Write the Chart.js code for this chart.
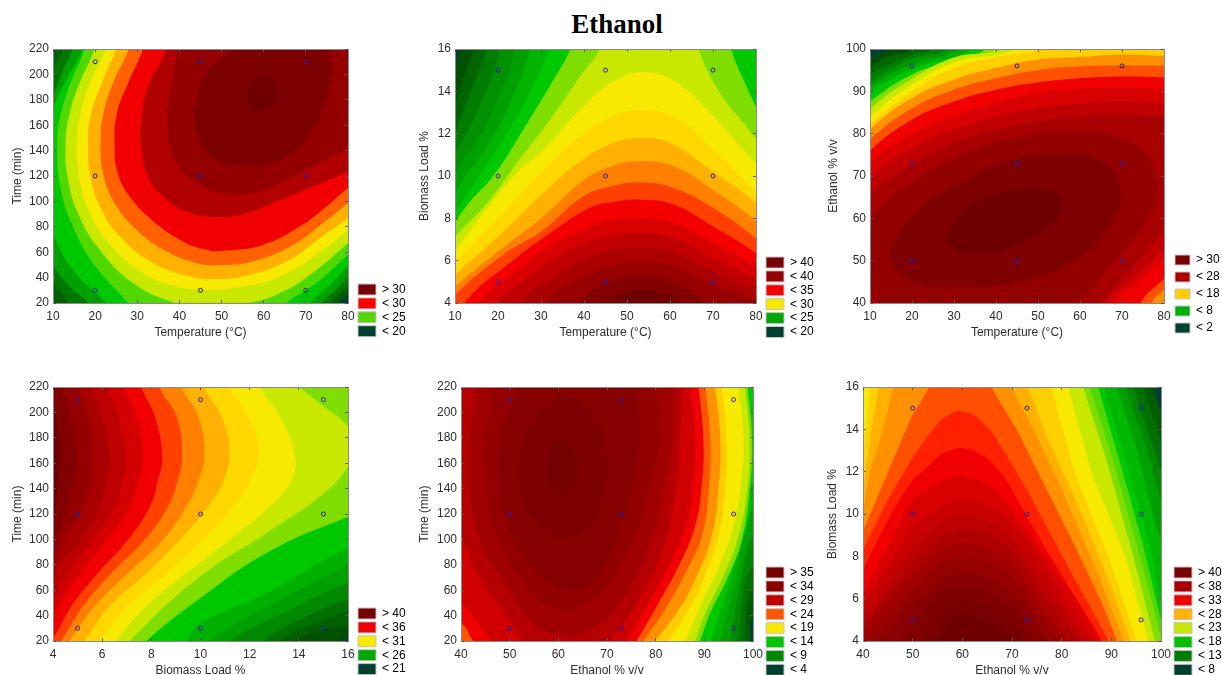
<!DOCTYPE html>
<html>
<head>
<meta charset="utf-8">
<title>Ethanol</title>
<script src="https://cdn.jsdelivr.net/npm/chart.js@4/dist/chart.umd.min.js"></script>
<style>
  html, body { margin: 0; height: 100%; overflow: hidden; background: #fff; }
  #title { position: absolute; left: 0; width: 1234px; top: 8px; text-align: center;
    font: bold 27px/32px "Liberation Serif", serif; color: #000; }
  canvas { position: absolute; filter: blur(0.45px); }
</style>
</head>
<body>
<div id="title">Ethanol</div>
<script>
const temperatureTicks = [10, 20, 30, 40, 50, 60, 70, 80]
const timeTicks = [20, 40, 60, 80, 100, 120, 140, 160, 180, 200, 220]
const biomassTicks = [4, 6, 8, 10, 12, 14, 16]
const ethanolTicks = [40, 50, 60, 70, 80, 90, 100]

const temperatureLevels = [20, 45, 70]
const timeLevels = [30, 120, 210]
const biomassLevels = [5, 10, 15]
const ethanolLevels = [50, 73, 96]

// contours in axis units, lowest level first,
// each one closed outside the plot area so only the visible part shows

const tempTimeColors = ["#004030", "#005f00", "#007800", "#00a000", "#00c800", "#50d800", "#c8e800", "#f8e900", "#ffb000", "#ff6000", "#f00000", "#b00000", "#940000", "#7c0000", "#720000"]
const tempTimeContours = [
  [[0, 0], [0, 250], [90, 250], [90, 0]],
  [[0, 10], [0, 240], [90, 240], [90, 40], [80, 26.6], [77.7, 20], [76, 10]],
  [[13, 235], [12.4, 220], [10, 205], [7, 190], [5, 150], [5, 60], [7, 45], [10, 35.7], [13.6, 20], [15, 10], [74, 10], [75.7, 20], [80, 32.6], [85, 42], [85, 235]],
  [[15.5, 235], [14.6, 220], [12.5, 204], [10, 182.7], [7, 160], [7, 90], [10, 51.5], [14, 33], [18.3, 20], [20, 10], [72, 10], [73.7, 20], [77, 30], [80, 39.7], [85, 52], [85, 235]],
  [[18, 235], [17.1, 220], [13, 195], [10, 172], [8, 140], [8, 100], [10, 75], [15, 45], [22.7, 20], [25, 10], [69, 10], [71, 20], [76, 35], [80, 48.9], [85, 62], [85, 235]],
  [[18.5, 235], [17.5, 220], [13.6, 188], [11.4, 161.7], [11, 140.7], [11.7, 111.9], [14.4, 83], [19.5, 51.5], [27.8, 20], [30, 10], [63, 10], [65.4, 20], [72.5, 35.7], [80, 58], [85, 72], [85, 235]],
  [[21, 235], [19.9, 220], [16.3, 193], [14, 169.6], [13, 146], [13.6, 117], [16.3, 88], [21.1, 62], [29, 35.7], [38.5, 20.5], [44.8, 17], [56.3, 20], [64.6, 29], [72.5, 46], [80, 67], [85, 80], [85, 235]],
  [[23.5, 235], [22.5, 220], [19.1, 195.9], [16.7, 172], [15.7, 148.6], [16.2, 119.7], [18.7, 90.9], [23.9, 64.6], [31.4, 43.6], [38.5, 33.6], [46.4, 30.5], [54.3, 32.6], [63, 39.7], [72.5, 58], [80, 77.7], [85, 92], [85, 235]],
  [[26, 235], [25, 220], [21.9, 195.9], [19.1, 169.6], [18.3, 146], [18.9, 119.7], [21.5, 93.5], [26.6, 69.9], [33.8, 51.5], [41.7, 41.5], [48, 38.9], [55.9, 41.5], [65.4, 52.8], [73.3, 71], [80, 86.9], [85, 100], [85, 235]],
  [[29, 235], [28, 220], [24.6, 195.9], [22, 169.6], [21.3, 146], [21.9, 122.4], [24.6, 98.7], [29.8, 77.7], [36.9, 60.7], [44, 51.5], [49.6, 49.7], [57.5, 52.8], [67, 65.9], [74.1, 83], [80, 98.7], [85, 112], [85, 235]],
  [[32.5, 235], [31.4, 220], [27.8, 193], [25.2, 169.6], [24.6, 146], [25.4, 122], [28.2, 104], [33.4, 85.6], [40.1, 69.9], [46.4, 62], [52, 61.5], [59.9, 65.9], [68.6, 80.4], [74.9, 96], [80, 110.5], [85, 122], [85, 235]],
  [[38, 235], [36.9, 220], [32.6, 190.6], [31, 164], [31, 143], [32.2, 122.4], [36.1, 104], [41.7, 92], [48.8, 87.7], [55.9, 90.9], [64.6, 102], [72.5, 113], [80, 123.4], [85, 132], [85, 235]],
  [[40, 235], [39.7, 220], [37.7, 185.4], [37.3, 153.9], [39.3, 130], [44.8, 113], [52, 106], [59.9, 109], [68.6, 122.4], [76.5, 135.5], [80, 143], [85, 155], [85, 235]],
  [[53, 235], [52, 220], [46.4, 201], [44, 180], [43.8, 159], [46.8, 138], [54.3, 128.4], [64.6, 134], [72.5, 161.7], [76.1, 201], [75.3, 220], [75, 235]],
  [[60.7, 198.5], [63.3, 189], [62.7, 177.5], [58.3, 171], [56.3, 180], [57.1, 193], [60.7, 198.5], [63.3, 189]],
]

const tempBiomassColors = ["#004030", "#005000", "#006400", "#007c00", "#009000", "#00a000", "#00b400", "#00c800", "#80dd00", "#c8e800", "#f8e900", "#ffd800", "#ffb000", "#ff8000", "#ff4000", "#f50000", "#d80000", "#c00000", "#aa0000", "#960000", "#820000", "#700000"]
const tempBiomassContours = [
  [[0, 0], [0, 20], [90, 20], [90, 0]],
  [[11.7, 17], [11.2, 16], [10, 14.94], [8, 13.5], [5, 10], [5, 2], [85, 2], [85, 17]],
  [[15, 17], [14.3, 16], [11.9, 14.6], [10, 13.3], [8, 12], [5, 9], [5, 2], [85, 2], [85, 17]],
  [[18, 17], [17.4, 16], [13.9, 14.1], [10, 12], [7, 10], [5, 8], [5, 2], [85, 2], [85, 17]],
  [[21, 17], [20.5, 16], [17.4, 14.1], [12.7, 12], [10, 11.1], [7, 9.5], [5, 7], [5, 2], [85, 2], [85, 17]],
  [[24.5, 17], [24, 16], [20.9, 14.1], [16.2, 12], [10, 10.14], [7, 8.8], [5, 6], [5, 2], [85, 2], [85, 17]],
  [[28, 17], [27.5, 16], [23.6, 13.8], [18.9, 11.9], [10, 9.2], [7, 8], [5, 6], [5, 2], [85, 2], [85, 17]],
  [[32, 17], [31.7, 16], [27.8, 14.1], [22, 12], [15, 9.8], [10, 8.25], [7, 7], [5, 5], [5, 2], [85, 2], [85, 17]],
  [[37.5, 17], [36.8, 16], [32.9, 14.55], [25.9, 12.2], [18.9, 10], [13.5, 8.8], [10, 7.8], [6, 6.5], [5, 2], [85, 2], [85, 11.5], [80, 13.3], [77.1, 14.55], [74.2, 16], [73.5, 17]],
  [[44.5, 17], [43.7, 16], [39.1, 14.7], [32.1, 12.66], [25.1, 10.8], [17.8, 8.8], [10, 7.12], [6, 6], [5, 2], [85, 2], [85, 10.5], [80, 11.75], [77.1, 12.5], [71.7, 13.9], [66.6, 16], [66, 17]],
  [[5, 2], [6, 5.5], [10, 6.44], [16.6, 8.25], [24.4, 10.14], [30.6, 11.24], [39.9, 13.3], [47.6, 14.55], [54.4, 14.9], [61.6, 14.4], [69.3, 13], [75.6, 11.56], [80, 10.6], [85, 9.5], [85, 2]],
  [[5, 2], [6, 5], [10, 5.9], [19.7, 7.94], [30.6, 10.3], [39.9, 12], [47.6, 12.9], [53.8, 13.1], [60.8, 12.8], [69.3, 11.4], [80, 9.2], [85, 8], [85, 2]],
  [[5, 2], [6, 4.5], [10, 5.34], [19.7, 7.07], [30.6, 9.2], [39.9, 10.8], [46.9, 11.56], [53.1, 11.8], [60, 11.56], [69.3, 10.3], [80, 8.72], [85, 7.5], [85, 2]],
  [[5, 2], [6, 4], [10, 4.79], [20.5, 6.52], [30.6, 8.1], [39.9, 9.8], [46.9, 10.5], [53.1, 10.7], [60.8, 10.46], [70, 9.35], [80, 7.86], [85, 6.8], [85, 2]],
  [[5, 2], [7, 3.6], [10, 4.4], [21.2, 6.28], [30.6, 7.46], [39.9, 9.04], [46.9, 9.54], [53.1, 9.7], [60.8, 9.43], [70, 8.5], [80, 7.07], [85, 6.2], [85, 2]],
  [[8, 2], [11.9, 3.92], [22.8, 5.9], [32.1, 7.3], [41.4, 8.5], [46.9, 8.77], [53.1, 8.88], [60.8, 8.65], [70, 7.62], [80, 6.36], [85, 5.5], [85, 2]],
  [[13, 2], [15.8, 4], [22.8, 5.26], [32.1, 6.68], [41.4, 7.62], [46.9, 7.94], [53.1, 8], [60.8, 7.78], [69.3, 6.9], [80, 5.73], [85, 5], [85, 2]],
  [[17, 2], [19.7, 3.92], [26.7, 5.18], [35.2, 6.36], [43.7, 7.07], [53.1, 7.3], [60.8, 7.07], [69.3, 6.2], [80, 5.1], [85, 4.4], [85, 2]],
  [[23, 2], [25.1, 3.92], [32.1, 5.1], [39.9, 6.05], [46.9, 6.49], [53.1, 6.6], [60.8, 6.36], [69.3, 5.57], [80, 4.55], [85, 4], [85, 2]],
  [[28, 2], [30.6, 3.92], [38.3, 5.1], [46.1, 5.73], [53.1, 5.9], [60.8, 5.73], [69.3, 4.94], [80, 4.08], [85, 3.5], [85, 2]],
  [[36, 2], [39.1, 4], [46.1, 5], [53.1, 5.26], [60.8, 5], [67.8, 4.16], [69.3, 3.92], [73, 2]],
  [[41, 2], [44.5, 3.9], [49.2, 4.47], [53.1, 4.63], [58.5, 4.47], [63, 3.9], [67, 2]],
]

const tempEthanolColors = ["#004030", "#005000", "#006800", "#008000", "#009800", "#00b000", "#00c800", "#80dd00", "#c8e800", "#f8e900", "#ffd000", "#ff9000", "#ff5000", "#f00000", "#d80000", "#c00000", "#a80000", "#920000", "#7e0000", "#700000"]
const tempEthanolContours = [
  [[0, 20], [0, 110], [90, 110], [90, 20]],
  [[14.5, 104], [14, 100], [10, 97.5], [6, 94], [5, 30], [85, 30], [85, 104]],
  [[21, 104], [20, 100], [14, 98], [10, 95.5], [6, 92], [5, 30], [85, 30], [85, 104]],
  [[25.5, 104], [24.8, 100], [20, 98.6], [10, 93.9], [6, 90], [5, 30], [85, 30], [85, 104]],
  [[29.5, 104], [28.7, 100], [20, 97.6], [10, 92], [6, 88], [5, 30], [85, 30], [85, 104]],
  [[32, 104], [31, 100], [20, 96.4], [10, 91], [6, 87], [5, 30], [85, 30], [85, 104]],
  [[35.5, 104], [34.5, 100], [20, 95.2], [10, 89.6], [6, 86], [5, 30], [85, 30], [85, 104]],
  [[38.5, 104], [37.5, 100], [30, 97.2], [20, 94], [10, 87.6], [6, 84], [5, 30], [85, 30], [85, 104]],
  [[42, 104], [40.6, 100], [30, 98], [20, 93], [10, 86], [6, 82], [5, 30], [85, 30], [85, 104]],
  [[46, 104], [44.6, 100], [30, 96.8], [20, 91.6], [10, 84.1], [6, 80], [5, 30], [85, 30], [85, 104]],
  [[52, 104], [49.8, 100], [40, 98.1], [30, 95.5], [20, 90], [10, 82.2], [6, 78], [5, 30], [85, 30], [85, 104]],
  [[5, 30], [6, 76], [10, 81.1], [20, 88.4], [30, 92.8], [40, 95.5], [50, 97.5], [60, 98.1], [70, 98.7], [80, 98.4], [85, 98.4], [85, 30]],
  [[5, 30], [6, 74], [10, 78.7], [20, 86], [30, 90.4], [40, 93.1], [50, 95], [60, 95.9], [70, 96.1], [80, 96.1], [85, 96], [85, 47], [80, 43.1], [77.1, 40], [74, 30]],
  [[5, 30], [6, 71], [10, 76], [20, 83.3], [30, 87.6], [40, 90.4], [50, 92.1], [60, 93.1], [70, 93.5], [80, 93.3], [85, 93], [85, 50], [80, 45.7], [74.4, 40], [70, 30]],
  [[5, 30], [6, 68], [10, 73.1], [20, 79.8], [30, 84.1], [40, 87.2], [50, 89.6], [60, 90.6], [70, 91], [80, 90.2], [85, 90], [85, 55], [80, 50.5], [75, 46], [68.4, 40], [64, 30]],
  [[5, 30], [6, 64], [10, 69.9], [20, 76.6], [30, 80.9], [40, 84.1], [50, 86], [60, 87.2], [70, 87.6], [80, 87.2], [85, 87], [85, 58], [80, 53], [74, 47], [66.3, 40], [62, 30]],
  [[5, 35], [6, 59], [10, 65.6], [20, 72.7], [30, 77.8], [40, 80.9], [50, 82.9], [60, 84.1], [70, 84.5], [80, 84.1], [85, 84], [85, 62], [80, 57], [73, 49], [64.8, 40], [60, 35]],
  [[14, 39], [10, 42], [8, 48], [8, 56], [10, 60.1], [20.8, 69.1], [31.1, 74.6], [44.6, 79], [60, 80.2], [72.4, 77.8], [78.3, 69.1], [76.3, 60.5], [68.4, 50.2], [58.1, 39.6], [40, 35]],
  [[14.8, 51.8], [20.8, 61.3], [31.1, 68.3], [41.4, 73.1], [51.7, 74.9], [64.4, 73.9], [69.6, 66.8], [66.8, 58.1], [58.9, 50.2], [47.8, 45.5], [28.7, 43.7], [19.2, 45.5], [14.8, 51.8], [20.8, 61.3]],
  [[28.3, 55.7], [31.1, 60.5], [38.3, 65.2], [47.8, 66.9], [54.9, 65.6], [55.7, 62.4], [51.7, 57.3], [43.8, 53], [35.1, 51.4], [29.5, 53], [28.3, 55.7], [31.1, 60.5]],
]

const biomassTimeColors = ["#004030", "#005000", "#006000", "#007000", "#008800", "#00a000", "#00b000", "#00c800", "#80dd00", "#c8e800", "#f8e900", "#ffd800", "#ffb000", "#ff8000", "#ff4000", "#f00000", "#d40000", "#bd0000", "#a80000", "#940000", "#820000", "#700000"]
const biomassTimeContours = [
  [[0, 0], [0, 250], [20, 250], [20, 0]],
  [[15, 10], [15.67, 20], [16, 23.7], [18, 30], [18, 240], [2, 240], [2, 10]],
  [[13.5, 10], [13.8, 20], [15, 29], [16, 31.5], [18, 38], [18, 240], [2, 240], [2, 10]],
  [[13, 10], [13.2, 20], [14.7, 34.2], [16, 43.4], [18, 50], [18, 240], [2, 240], [2, 10]],
  [[12.3, 10], [12.55, 20], [14.3, 39.4], [16, 52.5], [18, 60], [18, 240], [2, 240], [2, 10]],
  [[11, 10], [11.2, 20], [13.64, 44.7], [16, 65.7], [18, 75], [18, 240], [2, 240], [2, 10]],
  [[10, 10], [10.3, 20], [13.23, 52.5], [16, 78.8], [18, 90], [18, 240], [2, 240], [2, 10]],
  [[9, 10], [9.43, 20], [10, 34], [12.69, 57.8], [16, 93.2], [18, 105], [18, 240], [2, 240], [2, 10]],
  [[7.5, 10], [7.8, 20], [10, 53.9], [12.69, 89.3], [16, 117.6], [18, 130], [18, 240], [2, 240], [2, 10]],
  [[14, 220], [15, 204.8], [16, 188.5], [16.2, 173], [16, 157.5], [14.86, 133.9], [12.69, 105], [10, 70.9], [7.12, 20], [6.9, 10], [2, 10], [2, 240], [13, 240]],
  [[12.2, 240], [12.42, 220], [13.23, 196.9], [13.84, 165.4], [13.64, 144.4], [12.82, 126], [11.19, 99.8], [9.43, 73.5], [7.8, 47.3], [6.58, 20], [6.3, 10], [2, 10], [2, 240]],
  [[11, 240], [11.19, 220], [11.94, 196.9], [12.35, 170.7], [12, 145], [11.33, 126], [10.11, 99.8], [8.62, 73.5], [7.05, 47.3], [5.9, 20], [5.6, 10], [2, 10], [2, 240]],
  [[10, 240], [10.14, 220], [10.85, 196.9], [11.18, 168], [10.9, 145], [10.31, 126], [9.16, 99.8], [7.8, 73.5], [6.31, 47.3], [5.29, 20], [5, 10], [2, 10], [2, 240]],
  [[9, 240], [9.23, 220], [9.9, 196.9], [10.16, 168], [9.9, 145], [9.43, 126], [8.48, 99.8], [7.05, 73.5], [5.7, 47.3], [4.68, 20], [4.4, 10], [2, 10], [2, 240]],
  [[8.2, 240], [8.34, 220], [9.02, 196.9], [9.25, 165.4], [9.05, 145], [8.68, 126], [7.73, 99.8], [6.38, 73.5], [5.22, 47.3], [4.34, 20], [4, 10], [2, 10], [2, 240]],
  [[7.4, 240], [7.6, 220], [8.14, 196.9], [8.44, 165.4], [8.25, 145], [7.94, 126], [7.05, 99.8], [5.83, 73.5], [4.75, 47.3], [4, 22.4], [3.5, 14], [2, 10], [2, 240]],
  [[6.7, 240], [6.88, 220], [7.39, 196.9], [7.66, 165.4], [7.45, 145], [7.12, 126], [6.17, 99.8], [5.09, 73.5], [4, 40.7], [3.5, 30], [2, 20], [2, 240]],
  [[6.1, 240], [6.24, 220], [6.65, 196.9], [6.96, 165.4], [6.8, 145], [6.51, 126], [5.63, 99.8], [4.61, 73.5], [4, 51.2], [3.5, 40], [2, 30], [2, 240]],
  [[5.4, 240], [5.56, 220], [5.97, 196.9], [6.28, 168], [6.15, 145], [5.9, 126], [5.15, 99.8], [4.2, 78.8], [4, 68.3], [3.5, 55], [2, 40], [2, 240]],
  [[4.9, 240], [5.02, 220], [5.43, 196.9], [5.6, 168], [5.5, 145], [5.22, 126], [4.48, 99.8], [4, 82.7], [3.5, 70], [2, 50], [2, 240]],
  [[4.3, 240], [4.41, 220], [4.75, 196.9], [4.98, 165.4], [4.85, 145], [4.61, 126], [4.07, 99.8], [3.5, 85], [2, 70], [2, 240]],
  [[3.5, 215], [4, 205], [4.2, 190], [4.31, 165.4], [4.25, 145], [4.11, 126], [4, 115.5], [3.5, 105]],
]

const ethanolTimeColors = ["#004030", "#005c00", "#007000", "#008800", "#00a000", "#00b000", "#00c800", "#80dd00", "#c8e800", "#f8e900", "#ffcc00", "#ff9000", "#ff5500", "#f00000", "#d00000", "#b40000", "#a00000", "#920000", "#860000", "#7e0000", "#760000"]
const ethanolTimeContours = [
  [[30, 0], [30, 250], [110, 250], [110, 0]],
  [[99, 10], [99.4, 20], [100, 38.1], [105, 50], [105, 240], [35, 240], [35, 10]],
  [[98, 10], [98.4, 20], [98.8, 47.3], [100, 61.7], [105, 75], [105, 240], [35, 240], [35, 10]],
  [[96.5, 10], [97, 20], [98.1, 60.4], [100, 78.8], [105, 90], [105, 240], [35, 240], [35, 10]],
  [[95, 10], [95.3, 20], [97.4, 65.7], [100, 102.4], [105, 115], [105, 240], [35, 240], [35, 10]],
  [[93, 10], [93.3, 20], [96.3, 65.7], [100, 126], [105, 140], [105, 240], [35, 240], [35, 10]],
  [[91, 10], [91.5, 20], [95.3, 68.3], [99.4, 120.8], [100, 144.4], [105, 165], [105, 240], [35, 240], [35, 10]],
  [[98.5, 240], [98.9, 220], [99.8, 178.5], [99.3, 139.2], [97.7, 99.8], [94.6, 68.3], [91.2, 42], [89.1, 20], [88, 10], [35, 10], [35, 240]],
  [[98, 240], [98.4, 220], [99.3, 178.5], [98.8, 139.2], [97, 102.4], [93.9, 70.9], [90.2, 42], [88.1, 20], [87, 10], [35, 10], [35, 240]],
  [[96.5, 240], [97, 220], [98.1, 178.5], [97.6, 147], [96.3, 115.5], [93.6, 84], [89.8, 52.5], [86.1, 20], [85, 10], [35, 10], [35, 240]],
  [[93, 240], [93.6, 220], [94.6, 178.5], [94.3, 139.2], [92.9, 102.4], [89.8, 68.3], [86.4, 42], [82.6, 20], [81, 10], [35, 10], [35, 240]],
  [[91.5, 240], [92.2, 220], [93.3, 178.5], [92.9, 139.2], [91.5, 102.4], [88.1, 68.3], [84.3, 42], [79.9, 20], [78, 10], [35, 10], [35, 240]],
  [[89.5, 240], [90.2, 220], [91.2, 178.5], [90.9, 139.2], [89.5, 102.4], [86.1, 73.5], [81.9, 44.7], [77.5, 20], [76, 10], [35, 10], [35, 240]],
  [[88, 240], [88.8, 220], [89.8, 178.5], [89.5, 144.4], [88.1, 110.3], [84.7, 78.8], [80.6, 49.9], [76.1, 20], [75, 14], [60, 5], [44, 14], [42.5, 20], [40, 34.2], [35, 40], [35, 240]],
  [[86.5, 240], [87.1, 220], [88.1, 178.5], [87.8, 147], [86.4, 112.9], [83, 81.4], [78.5, 49.9], [74, 20], [72.5, 14], [60, 5], [47.5, 14], [46.2, 20], [40, 49.9], [35, 60], [35, 240]],
  [[85, 240], [85.4, 220], [85, 180], [84.3, 147], [81.6, 94.5], [76.1, 49.9], [70.6, 20], [69.5, 14], [60, 5], [54, 14], [52.8, 20], [48, 47.3], [43.2, 73.5], [40, 99.8], [35, 110], [35, 240]],
  [[84, 235], [84, 220], [83.5, 180], [82.3, 147], [78.8, 97], [72.7, 49.9], [65.8, 27.6], [59.6, 25], [54.8, 34.2], [48.6, 68.3], [43.8, 99.8], [41.8, 139.2], [41.8, 178.5], [43.2, 220], [44, 235]],
  [[80, 235], [80.2, 220], [80.6, 178.5], [78.2, 131.3], [73.4, 84], [65.8, 49], [58.3, 47.3], [51.4, 73.5], [46.6, 110.3], [44.9, 147], [44.9, 178.5], [46.6, 220], [47, 235]],
  [[76, 235], [76.1, 220], [76.8, 178.5], [74.7, 134], [71.3, 94.5], [65.8, 63], [59.6, 63], [53.5, 84], [49.3, 115.5], [47.6, 147], [48, 178.5], [51.4, 220], [52, 235]],
  [[51.9, 152.3], [53.1, 126], [56.9, 107.7], [61, 100.3], [65.8, 107.7], [69.2, 131.3], [69.9, 165.4], [67.9, 194.3], [61.7, 212.6], [56.2, 199.5], [53.1, 178.5], [51.9, 152.3], [53.1, 126]],
  [[64.1, 157.5], [63, 172], [61, 178.5], [58.5, 172], [57.7, 157.5], [58.2, 143], [61, 136], [63.3, 143], [64.1, 157.5], [63, 172]],
]

const ethanolBiomassColors = ["#004030", "#005c00", "#007000", "#008800", "#00a000", "#00b800", "#00c800", "#50d800", "#80dd00", "#c8e800", "#f8e900", "#ffd000", "#ffb000", "#ff9000", "#ff5000", "#ff2000", "#f00000", "#d80000", "#c80000", "#bd0000", "#ae0000", "#a00000", "#950000", "#8a0000", "#800000", "#780000", "#700000"]
const ethanolBiomassContours = [
  [[30, 0], [30, 20], [110, 20], [110, 0]],
  [[35, 2], [35, 18], [97.5, 18], [98.2, 16], [100, 14.85], [103, 13.5], [105, 2]],
  [[35, 2], [35, 18], [96, 18], [96.5, 16], [98.5, 14.46], [100, 13.5], [103, 12], [105, 2]],
  [[35, 2], [35, 18], [94, 18], [94.5, 16], [97.5, 13.83], [100, 12.09], [103, 10], [105, 2]],
  [[35, 2], [35, 18], [92, 18], [92.8, 16], [96.5, 13.5], [100, 10.68], [103, 8.5], [105, 2]],
  [[35, 2], [35, 18], [90.5, 18], [91.1, 16], [95.1, 13.04], [99.2, 9.26], [100, 8.79], [103, 7], [105, 2]],
  [[35, 2], [35, 18], [88, 18], [88.4, 16], [92.5, 12.88], [97.5, 8.79], [100, 5.8], [103, 3], [105, 2]],
  [[35, 2], [35, 18], [87, 18], [87.4, 16], [91.4, 12.72], [96.1, 8.79], [100, 5.01], [103, 3], [105, 2]],
  [[35, 2], [35, 18], [85, 18], [85.7, 16], [90.1, 12.72], [94.8, 8.79], [100, 4.22], [102, 2]],
  [[35, 2], [35, 18], [84, 18], [84.4, 16], [88.8, 12.72], [93.5, 8.79], [98.8, 4], [100, 2]],
  [[35, 2], [35, 18], [81, 18], [81.4, 16], [86.1, 11.94], [92.8, 8], [97.5, 4], [99, 2]],
  [[41.8, 18], [41.4, 16], [40, 12.8], [36, 9], [36, 2], [97, 2], [95.1, 4], [89.4, 8], [82.7, 11.94], [78, 16], [77, 18]],
  [[43.6, 18], [43.2, 16], [41.4, 13.5], [40, 11.15], [36, 8], [36, 2], [96, 2], [93.8, 4], [89.4, 6.9], [83.4, 10.36], [77.3, 13.5], [73.3, 16], [72, 18]],
  [[46.6, 18], [46.1, 16], [43.8, 13.83], [41.4, 11.94], [40, 10.2], [36, 7], [36, 2], [94, 2], [92.5, 4], [86.1, 7.84], [79.4, 11.46], [74, 14.14], [70, 16], [69, 18]],
  [[54, 18], [53.3, 16], [49.8, 14.6], [45.8, 12.4], [42.4, 10.52], [40, 9.18], [36, 7], [36, 2], [93, 2], [91.1, 4], [88.1, 5.8], [82.7, 8.47], [76, 11.62], [70.6, 14.14], [65.9, 16], [65, 18]],
  [[36, 2], [36, 6], [40, 8.31], [45.4, 10.83], [50, 12.65], [52.8, 13.6], [55.7, 14.46], [59.1, 14.88], [61.9, 14.74], [65.3, 14.06], [68.6, 12.88], [73, 11.15], [77.3, 9.26], [82.7, 6.9], [89.4, 4], [92, 2]],
  [[36, 2], [36, 5], [40, 7.37], [45.8, 10.05], [50, 11.62], [52.8, 12.17], [55.5, 12.8], [59.2, 13.12], [62, 13.04], [65.3, 12.57], [68.6, 11.7], [73, 9.89], [77.3, 8.16], [82.7, 6.11], [88.1, 4], [90, 2]],
  [[36, 2], [36, 4], [40, 6.27], [45.8, 8.79], [50, 10.68], [55.5, 11.54], [59.2, 11.78], [62, 11.7], [65.9, 11.3], [70, 10.2], [74, 8.94], [78.7, 7.37], [83.4, 5.8], [87.4, 4], [89, 2]],
  [[36, 2], [36, 3.5], [40, 5.64], [45.1, 7.53], [50, 9.34], [55.5, 10.36], [59.2, 10.63], [63.9, 10.52], [68.6, 9.89], [73.3, 8.79], [78, 7.06], [82, 5.48], [86.1, 4], [88, 2]],
  [[36, 2], [36, 3.2], [40, 5.17], [45.8, 7.06], [50, 8.47], [55.5, 9.57], [59.2, 9.89], [64.6, 9.73], [70, 8.94], [74.7, 7.53], [78.7, 5.95], [84.7, 4], [86, 2]],
  [[36, 2], [36, 3], [40, 4.77], [45.8, 6.5], [50, 7.69], [55.5, 8.94], [59.2, 9.26], [64.6, 9.1], [70, 8.31], [74, 7.06], [78.7, 5.48], [83.4, 4], [85, 2]],
  [[36, 2], [36, 3], [40, 4.54], [43.8, 5.64], [50, 7.06], [55.5, 8.31], [59.2, 8.63], [64.6, 8.47], [70, 7.69], [74, 6.43], [77.3, 5.17], [81.4, 4], [83, 2]],
  [[38, 2], [40.4, 4], [45.8, 5.48], [50, 6.5], [55.5, 7.69], [59.2, 7.92], [64.6, 7.76], [70, 7.06], [74, 5.8], [79.4, 4], [81, 2]],
  [[41, 2], [43.1, 4], [50, 5.8], [55.5, 6.98], [59.2, 7.21], [64.6, 7.06], [70, 6.27], [74, 5.17], [77.3, 4], [79, 2]],
  [[46, 2], [47.8, 4], [52.5, 5.64], [55.5, 6.35], [59.2, 6.58], [64.6, 6.43], [70, 5.64], [75.3, 4], [77, 2]],
  [[50, 2], [51.8, 4], [55.5, 5.64], [59.2, 5.95], [64.6, 5.8], [70, 4.85], [73.3, 4], [75, 2]],
  [[54, 2], [55.2, 4], [57.2, 5.01], [59.9, 5.24], [64.6, 5.09], [67.9, 4.54], [71.3, 4], [73, 2]],
]

const panels = [
  {
    xTicks: temperatureTicks, yTicks: timeTicks, xLevels: temperatureLevels, yLevels: timeLevels,
    xTitle: "Temperature (°C)", yTitle: "Time (min)",
    colors: tempTimeColors, contours: tempTimeContours, tension: 0.45,
    legendText: ["> 30", "< 30", "< 25", "< 20"],
    legendColors: ["#780000", "#ff0000", "#55d500", "#004030"],
    canvas: [0, 0, 408, 340], plot: [53, 49, 348, 303], yTitlePad: 10.3,
    legendAt: [358, 284], swatch: [18, 11], legendGap: 1.9,
  },
  {
    xTicks: temperatureTicks, yTicks: biomassTicks, xLevels: temperatureLevels, yLevels: biomassLevels,
    xTitle: "Temperature (°C)", yTitle: "Biomass Load %",
    colors: tempBiomassColors, contours: tempBiomassContours, tension: 0.45,
    legendText: ["> 40", "< 40", "< 35", "< 30", "< 25", "< 20"],
    legendColors: ["#780000", "#960000", "#f50000", "#f8e900", "#00a800", "#004030"],
    canvas: [410, 0, 405, 340], plot: [45, 49, 346, 303], yTitlePad: 7.8,
    legendAt: [356, 257], swatch: [18, 11], legendGap: 1.9,
  },
  {
    xTicks: temperatureTicks, yTicks: ethanolTicks, xLevels: temperatureLevels, yLevels: ethanolLevels,
    xTitle: "Temperature (°C)", yTitle: "Ethanol % v/v",
    colors: tempEthanolColors, contours: tempEthanolContours, tension: 0.45,
    legendText: ["> 30", "< 28", "< 18", "< 8", "< 2"],
    legendColors: ["#780000", "#b00000", "#ffcc00", "#00b000", "#004030"],
    canvas: [815, 0, 407, 340], plot: [55, 49, 349, 303], yTitlePad: 11,
    legendAt: [360, 255], swatch: [15, 10], legendGap: 5,
  },
  {
    xTicks: biomassTicks, yTicks: timeTicks, xLevels: biomassLevels, yLevels: timeLevels,
    xTitle: "Biomass Load %", yTitle: "Time (min)",
    colors: biomassTimeColors, contours: biomassTimeContours, tension: 0.45,
    legendText: ["> 40", "< 36", "< 31", "< 26", "< 21"],
    legendColors: ["#780000", "#f00000", "#f8e900", "#00a800", "#004030"],
    canvas: [0, 340, 408, 338], plot: [53, 47, 348, 301], yTitlePad: 10.3,
    legendAt: [358, 268], swatch: [18, 11], legendGap: 1.9,
  },
  {
    xTicks: ethanolTicks, yTicks: timeTicks, xLevels: ethanolLevels, yLevels: timeLevels,
    xTitle: "Ethanol % v/v", yTitle: "Time (min)",
    colors: ethanolTimeColors, contours: ethanolTimeContours, tension: 0.45,
    legendText: ["> 35", "< 34", "< 29", "< 24", "< 19", "< 14", "< 9", "< 4"],
    legendColors: ["#780000", "#8a0000", "#c00000", "#ff5500", "#f8e900", "#00c800", "#008800", "#004030"],
    canvas: [410, 340, 405, 338], plot: [51, 47, 343, 301], yTitlePad: 7.8,
    legendAt: [356, 227], swatch: [18, 11], legendGap: 1.9,
  },
  {
    xTicks: ethanolTicks, yTicks: biomassTicks, xLevels: ethanolLevels, yLevels: biomassLevels,
    xTitle: "Ethanol % v/v", yTitle: "Biomass Load %",
    colors: ethanolBiomassColors, contours: ethanolBiomassContours, tension: 0.12,
    legendText: ["> 40", "< 38", "< 33", "< 28", "< 23", "< 18", "< 13", "< 8"],
    legendColors: ["#780000", "#a80000", "#f00000", "#ffb000", "#c8e800", "#00c000", "#007c00", "#004030"],
    canvas: [815, 340, 407, 338], plot: [48, 47, 346, 301], yTitlePad: 10.8,
    legendAt: [359, 227], swatch: [18, 11], legendGap: 1.9,
  },
]

const textColor = "#2e2e2e"
const axisFont = { family: "'Liberation Sans', Arial, sans-serif", size: 12 }

function axis(ticks, position, extra) {
  return {
    type: "linear",
    position,
    min: ticks[0],
    max: ticks[ticks.length - 1],
    afterBuildTicks: (scale) => { scale.ticks = ticks.map((value) => ({ value })) },
    grid: { drawOnChartArea: false, tickLength: -3, tickColor: "#555", tickWidth: 1, z: 1 },
    border: { color: "#8a8a8a", width: 1, z: 1 },
    ...extra,
  }
}

function drawPanel(panel) {
  const [left, top, width, height] = panel.canvas
  const [plotLeft, plotTop, plotRight, plotBottom] = panel.plot

  const canvas = document.createElement("canvas")
  canvas.width = width
  canvas.height = height
  canvas.style.left = left + "px"
  canvas.style.top = top + "px"
  document.body.appendChild(canvas)

  const design = []
  for (const y of panel.yLevels) {
    for (const x of panel.xLevels) design.push({ x, y })
  }

  const bands = panel.contours.map((contour, i) => ({
    data: contour,
    showLine: true,
    fill: "shape",
    backgroundColor: panel.colors[i],
    borderWidth: 0,
    pointRadius: 0,
    tension: panel.tension,
    capBezierPoints: false,
    order: panel.contours.length - i,
  }))

  // legend sits outside the plot, so it is pinned once the layout is done
  const pinLegend = {
    id: "pinLegend",
    afterLayout(chart) {
      const legend = chart.legend
      legend.left = panel.legendAt[0] - panel.legendGap
      legend.right = legend.left + legend.width + 6
      legend.top = panel.legendAt[1] - panel.legendGap - (12 - panel.swatch[1]) / 2
      legend.bottom = legend.top + legend.height
    },
  }

  new Chart(canvas, {
    type: "scatter",
    data: {
      datasets: [
        {
          data: design,
          pointRadius: 2,
          pointBorderWidth: 1,
          pointBorderColor: "#2c1cb0",
          pointBackgroundColor: "rgba(0, 0, 0, 0)",
          order: 0,
        },
        ...bands,
      ],
    },
    options: {
      responsive: false,
      animation: false,
      events: [],
      layout: {
        autoPadding: false,
        padding: { left: 0, top: plotTop, right: width - plotRight, bottom: 0 },
      },
      scales: {
        x: axis(panel.xTicks, "bottom", {
          afterFit: (scale) => { scale.height = height - plotBottom },
          ticks: { color: textColor, font: axisFont, padding: 9.5, autoSkip: false, maxRotation: 0 },
          title: { display: true, text: panel.xTitle, color: textColor, font: axisFont, padding: 0 },
        }),
        y: axis(panel.yTicks, "left", {
          afterFit: (scale) => { scale.width = plotLeft },
          ticks: { color: textColor, font: axisFont, padding: 7, autoSkip: false },
          title: { display: true, text: panel.yTitle, color: textColor, font: axisFont, padding: { top: panel.yTitlePad, bottom: 0 } },
        }),
        x2: axis(panel.xTicks, "top", {
          afterFit: (scale) => { scale.height = 0 },
          ticks: { display: false },
        }),
        y2: axis(panel.yTicks, "right", {
          afterFit: (scale) => { scale.width = 0 },
          ticks: { display: false },
        }),
      },
      plugins: {
        tooltip: { enabled: false },
        legend: {
          position: "chartArea",
          align: "start",
          labels: {
            boxWidth: panel.swatch[0],
            boxHeight: panel.swatch[1],
            padding: panel.legendGap,
            color: textColor,
            font: axisFont,
            generateLabels: () => panel.legendText.map((text, i) => ({
              text,
              fillStyle: panel.legendColors[i],
              strokeStyle: "#c4c4c4",
              lineWidth: 1,
              hidden: false,
            })),
          },
        },
      },
    },
    plugins: [pinLegend],
  })
}

panels.forEach(drawPanel)
</script>
</body>
</html>
